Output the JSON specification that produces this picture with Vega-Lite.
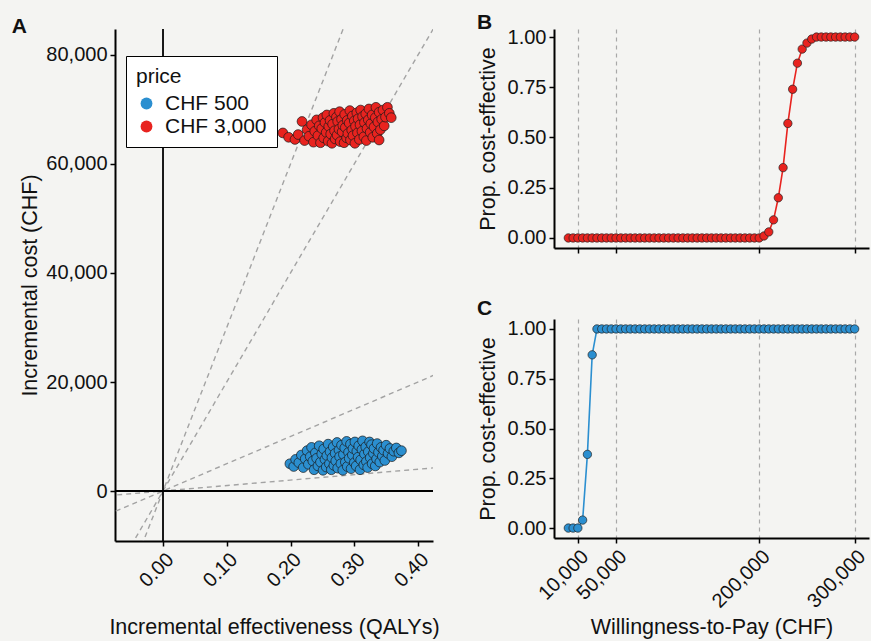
{
"$schema":"https://vega.github.io/schema/vega-lite/v6.json",
"background":"#f4f4f2",
"padding":{"left":11,"top":12,"right":2,"bottom":2},
"config":{
 "font":"Liberation Sans",
 "view":{"stroke":null},
 "axis":{"domainColor":"#000","domainWidth":2,"tickColor":"#000","tickWidth":1.5,"tickSize":5,"labelFontSize":20,"labelColor":"#111","titleFontSize":21.5,"titleFontWeight":"normal","titleColor":"#111","grid":false,"labelPadding":3,"labelFont":"Liberation Sans","titleFont":"Liberation Sans","labelOverlap":false},
 "title":{"anchor":"start","fontSize":21,"fontWeight":"bold","font":"Liberation Sans","color":"#111","frame":"bounds"},
 "legend":{"titleFontSize":21,"titleFontWeight":"normal","labelFontSize":21,"titleColor":"#111","labelColor":"#111","labelFont":"Liberation Sans","titleFont":"Liberation Sans"}
},
"datasets":{
 "psa":[
{"price":"CHF 3,000","effect":0.188,"cost":65700},{"price":"CHF 3,000","effect":0.197,"cost":64900},{"price":"CHF 3,000","effect":0.207,"cost":64500},{"price":"CHF 3,000","effect":0.212,"cost":65400},{"price":"CHF 3,000","effect":0.218,"cost":67800},{"price":"CHF 3,000","effect":0.222,"cost":64300},{"price":"CHF 3,000","effect":0.226,"cost":66300},{"price":"CHF 3,000","effect":0.229,"cost":65100},{"price":"CHF 3,000","effect":0.233,"cost":67200},{"price":"CHF 3,000","effect":0.236,"cost":64000},{"price":"CHF 3,000","effect":0.238,"cost":66000},{"price":"CHF 3,000","effect":0.241,"cost":68100},{"price":"CHF 3,000","effect":0.243,"cost":65200},{"price":"CHF 3,000","effect":0.245,"cost":67000},{"price":"CHF 3,000","effect":0.247,"cost":63900},{"price":"CHF 3,000","effect":0.249,"cost":66500},{"price":"CHF 3,000","effect":0.251,"cost":68500},{"price":"CHF 3,000","effect":0.252,"cost":64800},{"price":"CHF 3,000","effect":0.254,"cost":67600},{"price":"CHF 3,000","effect":0.256,"cost":65800},{"price":"CHF 3,000","effect":0.257,"cost":69000},{"price":"CHF 3,000","effect":0.259,"cost":64200},{"price":"CHF 3,000","effect":0.26,"cost":66900},{"price":"CHF 3,000","effect":0.262,"cost":68000},{"price":"CHF 3,000","effect":0.263,"cost":65500},{"price":"CHF 3,000","effect":0.265,"cost":63800},{"price":"CHF 3,000","effect":0.266,"cost":67300},{"price":"CHF 3,000","effect":0.268,"cost":69300},{"price":"CHF 3,000","effect":0.269,"cost":66100},{"price":"CHF 3,000","effect":0.27,"cost":64600},{"price":"CHF 3,000","effect":0.272,"cost":68600},{"price":"CHF 3,000","effect":0.273,"cost":65300},{"price":"CHF 3,000","effect":0.274,"cost":67800},{"price":"CHF 3,000","effect":0.276,"cost":66400},{"price":"CHF 3,000","effect":0.277,"cost":69600},{"price":"CHF 3,000","effect":0.278,"cost":64100},{"price":"CHF 3,000","effect":0.28,"cost":68200},{"price":"CHF 3,000","effect":0.281,"cost":65900},{"price":"CHF 3,000","effect":0.282,"cost":67100},{"price":"CHF 3,000","effect":0.284,"cost":63900},{"price":"CHF 3,000","effect":0.285,"cost":69100},{"price":"CHF 3,000","effect":0.286,"cost":66700},{"price":"CHF 3,000","effect":0.288,"cost":64800},{"price":"CHF 3,000","effect":0.289,"cost":68000},{"price":"CHF 3,000","effect":0.29,"cost":65600},{"price":"CHF 3,000","effect":0.292,"cost":67500},{"price":"CHF 3,000","effect":0.293,"cost":69800},{"price":"CHF 3,000","effect":0.294,"cost":64400},{"price":"CHF 3,000","effect":0.296,"cost":66200},{"price":"CHF 3,000","effect":0.297,"cost":68800},{"price":"CHF 3,000","effect":0.298,"cost":65200},{"price":"CHF 3,000","effect":0.3,"cost":67900},{"price":"CHF 3,000","effect":0.301,"cost":63800},{"price":"CHF 3,000","effect":0.302,"cost":66900},{"price":"CHF 3,000","effect":0.304,"cost":69400},{"price":"CHF 3,000","effect":0.305,"cost":65700},{"price":"CHF 3,000","effect":0.306,"cost":68300},{"price":"CHF 3,000","effect":0.308,"cost":64500},{"price":"CHF 3,000","effect":0.309,"cost":67200},{"price":"CHF 3,000","effect":0.31,"cost":69900},{"price":"CHF 3,000","effect":0.312,"cost":66000},{"price":"CHF 3,000","effect":0.313,"cost":68700},{"price":"CHF 3,000","effect":0.315,"cost":65000},{"price":"CHF 3,000","effect":0.316,"cost":67600},{"price":"CHF 3,000","effect":0.318,"cost":69200},{"price":"CHF 3,000","effect":0.319,"cost":64300},{"price":"CHF 3,000","effect":0.32,"cost":66500},{"price":"CHF 3,000","effect":0.322,"cost":68100},{"price":"CHF 3,000","effect":0.323,"cost":70100},{"price":"CHF 3,000","effect":0.325,"cost":65800},{"price":"CHF 3,000","effect":0.326,"cost":67400},{"price":"CHF 3,000","effect":0.328,"cost":69000},{"price":"CHF 3,000","effect":0.329,"cost":64900},{"price":"CHF 3,000","effect":0.331,"cost":66800},{"price":"CHF 3,000","effect":0.333,"cost":68500},{"price":"CHF 3,000","effect":0.334,"cost":70400},{"price":"CHF 3,000","effect":0.336,"cost":65600},{"price":"CHF 3,000","effect":0.337,"cost":67700},{"price":"CHF 3,000","effect":0.339,"cost":69500},{"price":"CHF 3,000","effect":0.341,"cost":66300},{"price":"CHF 3,000","effect":0.343,"cost":68200},{"price":"CHF 3,000","effect":0.345,"cost":69900},{"price":"CHF 3,000","effect":0.347,"cost":67000},{"price":"CHF 3,000","effect":0.349,"cost":68600},{"price":"CHF 3,000","effect":0.352,"cost":70400},{"price":"CHF 3,000","effect":0.355,"cost":69300},{"price":"CHF 3,000","effect":0.339,"cost":64400},{"price":"CHF 3,000","effect":0.358,"cost":68500},
{"price":"CHF 500","effect":0.199,"cost":5000},{"price":"CHF 500","effect":0.205,"cost":4500},{"price":"CHF 500","effect":0.208,"cost":5800},{"price":"CHF 500","effect":0.213,"cost":5200},{"price":"CHF 500","effect":0.217,"cost":6600},{"price":"CHF 500","effect":0.22,"cost":4300},{"price":"CHF 500","effect":0.223,"cost":5900},{"price":"CHF 500","effect":0.226,"cost":7400},{"price":"CHF 500","effect":0.228,"cost":4900},{"price":"CHF 500","effect":0.231,"cost":6300},{"price":"CHF 500","effect":0.233,"cost":8000},{"price":"CHF 500","effect":0.235,"cost":5500},{"price":"CHF 500","effect":0.237,"cost":3900},{"price":"CHF 500","effect":0.239,"cost":7000},{"price":"CHF 500","effect":0.241,"cost":6000},{"price":"CHF 500","effect":0.243,"cost":4600},{"price":"CHF 500","effect":0.245,"cost":8300},{"price":"CHF 500","effect":0.247,"cost":5300},{"price":"CHF 500","effect":0.249,"cost":6800},{"price":"CHF 500","effect":0.251,"cost":3800},{"price":"CHF 500","effect":0.252,"cost":7700},{"price":"CHF 500","effect":0.254,"cost":5800},{"price":"CHF 500","effect":0.256,"cost":4400},{"price":"CHF 500","effect":0.257,"cost":6500},{"price":"CHF 500","effect":0.259,"cost":8600},{"price":"CHF 500","effect":0.261,"cost":5000},{"price":"CHF 500","effect":0.262,"cost":7200},{"price":"CHF 500","effect":0.264,"cost":3900},{"price":"CHF 500","effect":0.265,"cost":6100},{"price":"CHF 500","effect":0.267,"cost":8100},{"price":"CHF 500","effect":0.268,"cost":4700},{"price":"CHF 500","effect":0.27,"cost":6900},{"price":"CHF 500","effect":0.271,"cost":5500},{"price":"CHF 500","effect":0.273,"cost":8900},{"price":"CHF 500","effect":0.274,"cost":4200},{"price":"CHF 500","effect":0.276,"cost":7500},{"price":"CHF 500","effect":0.277,"cost":6300},{"price":"CHF 500","effect":0.279,"cost":5000},{"price":"CHF 500","effect":0.28,"cost":8400},{"price":"CHF 500","effect":0.282,"cost":3800},{"price":"CHF 500","effect":0.283,"cost":6700},{"price":"CHF 500","effect":0.285,"cost":7900},{"price":"CHF 500","effect":0.286,"cost":5300},{"price":"CHF 500","effect":0.288,"cost":9100},{"price":"CHF 500","effect":0.289,"cost":4500},{"price":"CHF 500","effect":0.291,"cost":7100},{"price":"CHF 500","effect":0.292,"cost":6000},{"price":"CHF 500","effect":0.294,"cost":8600},{"price":"CHF 500","effect":0.295,"cost":4100},{"price":"CHF 500","effect":0.297,"cost":6600},{"price":"CHF 500","effect":0.298,"cost":7800},{"price":"CHF 500","effect":0.3,"cost":5200},{"price":"CHF 500","effect":0.301,"cost":9000},{"price":"CHF 500","effect":0.303,"cost":4600},{"price":"CHF 500","effect":0.304,"cost":7300},{"price":"CHF 500","effect":0.306,"cost":6200},{"price":"CHF 500","effect":0.307,"cost":8300},{"price":"CHF 500","effect":0.309,"cost":3900},{"price":"CHF 500","effect":0.31,"cost":5700},{"price":"CHF 500","effect":0.312,"cost":7600},{"price":"CHF 500","effect":0.313,"cost":9200},{"price":"CHF 500","effect":0.315,"cost":4800},{"price":"CHF 500","effect":0.316,"cost":6800},{"price":"CHF 500","effect":0.318,"cost":8100},{"price":"CHF 500","effect":0.319,"cost":5400},{"price":"CHF 500","effect":0.321,"cost":4300},{"price":"CHF 500","effect":0.322,"cost":7200},{"price":"CHF 500","effect":0.324,"cost":9000},{"price":"CHF 500","effect":0.325,"cost":6100},{"price":"CHF 500","effect":0.327,"cost":8500},{"price":"CHF 500","effect":0.328,"cost":5000},{"price":"CHF 500","effect":0.33,"cost":6900},{"price":"CHF 500","effect":0.331,"cost":7800},{"price":"CHF 500","effect":0.333,"cost":4600},{"price":"CHF 500","effect":0.335,"cost":5900},{"price":"CHF 500","effect":0.336,"cost":8700},{"price":"CHF 500","effect":0.338,"cost":7100},{"price":"CHF 500","effect":0.34,"cost":5300},{"price":"CHF 500","effect":0.342,"cost":8000},{"price":"CHF 500","effect":0.344,"cost":6400},{"price":"CHF 500","effect":0.346,"cost":7500},{"price":"CHF 500","effect":0.348,"cost":5600},{"price":"CHF 500","effect":0.35,"cost":8400},{"price":"CHF 500","effect":0.353,"cost":6900},{"price":"CHF 500","effect":0.356,"cost":7800},{"price":"CHF 500","effect":0.359,"cost":6300},{"price":"CHF 500","effect":0.362,"cost":7300},{"price":"CHF 500","effect":0.366,"cost":7900},{"price":"CHF 500","effect":0.37,"cost":7000},{"price":"CHF 500","effect":0.374,"cost":7400}
 ],
 "thresholds":[
  {"wtp":10000,"effect":-0.1,"cost":-1000},{"wtp":10000,"effect":0.45,"cost":4500},
  {"wtp":50000,"effect":-0.1,"cost":-5000},{"wtp":50000,"effect":0.45,"cost":22500},
  {"wtp":200000,"effect":-0.1,"cost":-20000},{"wtp":200000,"effect":0.45,"cost":90000},
  {"wtp":300000,"effect":-0.1,"cost":-30000},{"wtp":300000,"effect":0.45,"cost":135000}
 ],
 "ceac3000":[
{"wtp":0,"prop":0},{"wtp":5000,"prop":0},{"wtp":10000,"prop":0},{"wtp":15000,"prop":0},{"wtp":20000,"prop":0},{"wtp":25000,"prop":0},{"wtp":30000,"prop":0},{"wtp":35000,"prop":0},{"wtp":40000,"prop":0},{"wtp":45000,"prop":0},{"wtp":50000,"prop":0},{"wtp":55000,"prop":0},{"wtp":60000,"prop":0},{"wtp":65000,"prop":0},{"wtp":70000,"prop":0},{"wtp":75000,"prop":0},{"wtp":80000,"prop":0},{"wtp":85000,"prop":0},{"wtp":90000,"prop":0},{"wtp":95000,"prop":0},{"wtp":100000,"prop":0},{"wtp":105000,"prop":0},{"wtp":110000,"prop":0},{"wtp":115000,"prop":0},{"wtp":120000,"prop":0},{"wtp":125000,"prop":0},{"wtp":130000,"prop":0},{"wtp":135000,"prop":0},{"wtp":140000,"prop":0},{"wtp":145000,"prop":0},{"wtp":150000,"prop":0},{"wtp":155000,"prop":0},{"wtp":160000,"prop":0},{"wtp":165000,"prop":0},{"wtp":170000,"prop":0},{"wtp":175000,"prop":0},{"wtp":180000,"prop":0},{"wtp":185000,"prop":0},{"wtp":190000,"prop":0},{"wtp":195000,"prop":0},{"wtp":200000,"prop":0},{"wtp":205000,"prop":0.01},{"wtp":210000,"prop":0.03},{"wtp":215000,"prop":0.09},{"wtp":220000,"prop":0.2},{"wtp":225000,"prop":0.35},{"wtp":230000,"prop":0.57},{"wtp":235000,"prop":0.74},{"wtp":240000,"prop":0.87},{"wtp":245000,"prop":0.94},{"wtp":250000,"prop":0.97},{"wtp":255000,"prop":0.99},{"wtp":260000,"prop":1},{"wtp":265000,"prop":1},{"wtp":270000,"prop":1},{"wtp":275000,"prop":1},{"wtp":280000,"prop":1},{"wtp":285000,"prop":1},{"wtp":290000,"prop":1},{"wtp":295000,"prop":1},{"wtp":300000,"prop":1}
 ],
 "ceac500":[
{"wtp":0,"prop":0},{"wtp":5000,"prop":0},{"wtp":10000,"prop":0},{"wtp":15000,"prop":0.04},{"wtp":20000,"prop":0.37},{"wtp":25000,"prop":0.87},{"wtp":30000,"prop":1},{"wtp":35000,"prop":1},{"wtp":40000,"prop":1},{"wtp":45000,"prop":1},{"wtp":50000,"prop":1},{"wtp":55000,"prop":1},{"wtp":60000,"prop":1},{"wtp":65000,"prop":1},{"wtp":70000,"prop":1},{"wtp":75000,"prop":1},{"wtp":80000,"prop":1},{"wtp":85000,"prop":1},{"wtp":90000,"prop":1},{"wtp":95000,"prop":1},{"wtp":100000,"prop":1},{"wtp":105000,"prop":1},{"wtp":110000,"prop":1},{"wtp":115000,"prop":1},{"wtp":120000,"prop":1},{"wtp":125000,"prop":1},{"wtp":130000,"prop":1},{"wtp":135000,"prop":1},{"wtp":140000,"prop":1},{"wtp":145000,"prop":1},{"wtp":150000,"prop":1},{"wtp":155000,"prop":1},{"wtp":160000,"prop":1},{"wtp":165000,"prop":1},{"wtp":170000,"prop":1},{"wtp":175000,"prop":1},{"wtp":180000,"prop":1},{"wtp":185000,"prop":1},{"wtp":190000,"prop":1},{"wtp":195000,"prop":1},{"wtp":200000,"prop":1},{"wtp":205000,"prop":1},{"wtp":210000,"prop":1},{"wtp":215000,"prop":1},{"wtp":220000,"prop":1},{"wtp":225000,"prop":1},{"wtp":230000,"prop":1},{"wtp":235000,"prop":1},{"wtp":240000,"prop":1},{"wtp":245000,"prop":1},{"wtp":250000,"prop":1},{"wtp":255000,"prop":1},{"wtp":260000,"prop":1},{"wtp":265000,"prop":1},{"wtp":270000,"prop":1},{"wtp":275000,"prop":1},{"wtp":280000,"prop":1},{"wtp":285000,"prop":1},{"wtp":290000,"prop":1},{"wtp":295000,"prop":1},{"wtp":300000,"prop":1}
 ],
 "zx":[{"effect":0}],
 "zy":[{"cost":0}]
},
"bounds":"flush",
"spacing":121,
"hconcat":[
 {
  "title":{"text":"A","dx":-8,"dy":13},
  "width":318,"height":512,
  "layer":[
   {"data":{"name":"thresholds"},
    "mark":{"type":"line","clip":true,"color":"#a3a3a3","strokeWidth":1.4,"strokeDash":[5,4]},
    "encoding":{
     "x":{"field":"effect","type":"quantitative","scale":{"domain":[-0.0753,0.4235],"nice":false,"zero":false}},
     "y":{"field":"cost","type":"quantitative","scale":{"domain":[-9174,84770],"nice":false,"zero":false}},
     "detail":{"field":"wtp"}}},
   {"data":{"name":"zx"},"mark":{"type":"rule","color":"#000","strokeWidth":1.8},
    "encoding":{"x":{"field":"effect","type":"quantitative"}}},
   {"data":{"name":"zy"},"mark":{"type":"rule","color":"#000","strokeWidth":1.8},
    "encoding":{"y":{"field":"cost","type":"quantitative"}}},
   {"data":{"name":"psa"},
    "mark":{"type":"circle","size":95,"stroke":"#1a1a1a","strokeWidth":0.7,"opacity":1},
    "encoding":{
     "x":{"field":"effect","type":"quantitative","axis":{"values":[0,0.1,0.2,0.3,0.4],"format":".2f","labelAngle":-45,"labelAlign":"right","labelBaseline":"top","title":"Incremental effectiveness (QALYs)","titlePadding":26}},
     "y":{"field":"cost","type":"quantitative","axis":{"values":[0,20000,40000,60000,80000],"format":",.0f","title":"Incremental cost (CHF)","titlePadding":4}},
     "fill":{"field":"price","type":"nominal","scale":{"domain":["CHF 500","CHF 3,000"],"range":["#2b8fd0","#e8231f"]},
      "legend":{"title":"price","orient":"none","legendX":11,"legendY":27,"strokeColor":"#000","fillColor":"#ffffff","padding":10,"symbolType":"circle","symbolSize":140,"symbolStrokeWidth":0,"rowPadding":1,"titlePadding":6,"labelOffset":8}}}}
  ]
 },
 {
  "bounds":"flush",
  "spacing":71,
  "vconcat":[
   {
    "title":{"text":"B","dy":10},
    "width":315,"height":219,
    "data":{"name":"ceac3000"},
    "encoding":{
     "x":{"field":"wtp","type":"quantitative","scale":{"domain":[-15000,315000],"nice":false,"zero":false},"axis":{"values":[10000,50000,200000,300000],"labels":false,"title":null,"grid":true,"gridDash":[4,4],"gridColor":"#a8a8a8","gridWidth":1.2}},
     "y":{"field":"prop","type":"quantitative","scale":{"domain":[-0.05,1.04],"nice":false,"zero":false},"axis":{"values":[0,0.25,0.5,0.75,1],"format":".2f","title":"Prop. cost-effective","titlePadding":8}}
    },
    "layer":[
     {"mark":{"type":"line","color":"#e8231f","strokeWidth":1.6}},
     {"mark":{"type":"circle","size":70,"fill":"#e8231f","stroke":"#222","strokeWidth":0.7,"opacity":1}}
    ]
   },
   {
    "title":{"text":"C","offset":0},
    "width":315,"height":219,
    "data":{"name":"ceac500"},
    "encoding":{
     "x":{"field":"wtp","type":"quantitative","scale":{"domain":[-15000,315000],"nice":false,"zero":false},"axis":{"values":[10000,50000,200000,300000],"format":",.0f","labelAngle":-45,"labelAlign":"right","labelBaseline":"top","title":"Willingness-to-Pay (CHF)","titlePadding":5,"grid":true,"gridDash":[4,4],"gridColor":"#a8a8a8","gridWidth":1.2}},
     "y":{"field":"prop","type":"quantitative","scale":{"domain":[-0.05,1.05],"nice":false,"zero":false},"axis":{"values":[0,0.25,0.5,0.75,1],"format":".2f","title":"Prop. cost-effective","titlePadding":8}}
    },
    "layer":[
     {"mark":{"type":"line","color":"#2b8fd0","strokeWidth":1.6}},
     {"mark":{"type":"circle","size":70,"fill":"#2b8fd0","stroke":"#222","strokeWidth":0.7,"opacity":1}}
    ]
   }
  ]
 }
]
}
